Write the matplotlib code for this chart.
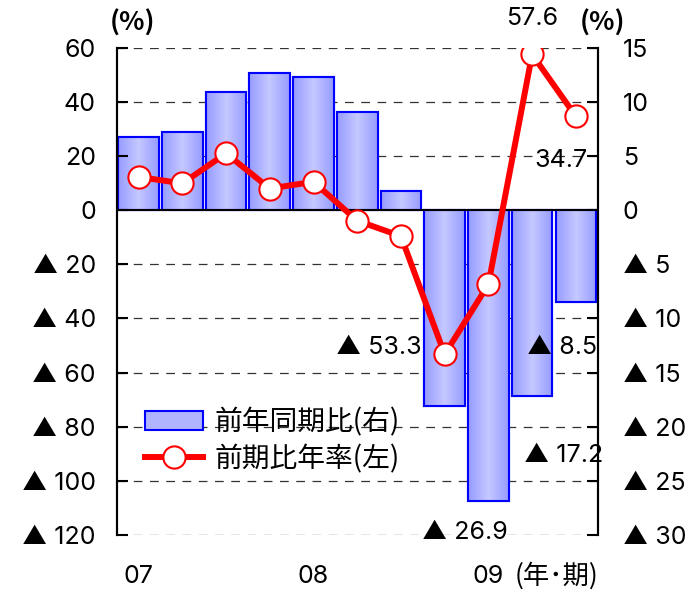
import matplotlib
matplotlib.use("Agg")
import matplotlib.pyplot as plt
import numpy as np
from matplotlib.patches import Rectangle
from matplotlib.lines import Line2D

plt.rcParams['font.family'] = ['Noto Sans CJK JP', 'DejaVu Sans']
NUM = ['Inter', 'DejaVu Sans']

# Data
quarters = ['07Q1', '07Q2', '07Q3', '07Q4', '08Q1', '08Q2', '08Q3', '08Q4', '09Q1', '09Q2', '09Q3']
yoy = [6.8, 7.2, 10.9, 12.7, 12.3, 9.1, 1.8, -18.1, -26.9, -17.2, -8.5]        # 前年同期比 (right axis)
annualized = [12.3, 9.9, 21.0, 8.0, 10.5, -3.9, -9.6, -53.3, -27.4, 57.6, 34.7]  # 前期比年率 (left axis)
xtick_pos = [0, 4, 8]
xtick_labels = ['07', '08', '09']
left_ticks = [60, 40, 20, 0, -20, -40, -60, -80, -100, -120]
left_labels = ['60', '40', '20', '0', '▲ 20', '▲ 40', '▲ 60', '▲ 80', '▲ 100', '▲ 120']
right_ticks = [15, 10, 5, 0, -5, -10, -15, -20, -25, -30]
right_labels = ['15', '10', '5', '0', '▲ 5', '▲ 10', '▲ 15', '▲ 20', '▲ 25', '▲ 30']

fig = plt.figure(figsize=(6.95, 5.91), dpi=100)
ax = fig.add_axes([0.168, 0.095, 0.692, 0.824])
ax2 = ax.twinx()

x = np.arange(len(quarters))
fs = 18

# grid lines (on ax2, behind bars)
for t in right_ticks:
    if t == 0:
        continue
    ax2.axhline(t, color='#333333', lw=0.9, ls=(0, (7, 6)), zorder=0.5)

# bars with gradient
bars = ax2.bar(x, yoy, width=0.93, facecolor='#b0b4ff', edgecolor='#0000ff', lw=1.5, zorder=2,
               label='前年同期比(右)')
grad = np.linspace(0, 1, 64)
prof = 1 - np.abs(grad - 0.5) * 2  # 0 edges, 1 centre
c_edge = np.array([150, 156, 255]) / 255
c_mid = np.array([198, 200, 255]) / 255
img = (c_edge[None, :] * (1 - prof[:, None]) + c_mid[None, :] * prof[:, None])[None, :, :]
for b in bars:
    x0, y0 = b.get_x(), b.get_y()
    w, h = b.get_width(), b.get_height()
    im = ax2.imshow(img, extent=[x0, x0 + w, min(y0, y0 + h), max(y0, y0 + h)],
                    aspect='auto', zorder=2.1, interpolation='bilinear')
    im.set_clip_path(b)
    b2 = Rectangle((x0, y0), w, h, facecolor='none', edgecolor='#0000ff', lw=1.5, zorder=2.2)
    ax2.add_patch(b2)

ax2.axhline(0, color='black', lw=1.5, zorder=3)

# line on left axis
ax.plot(x, annualized, color='#ff0000', lw=4.3, marker='o', markersize=16,
        markerfacecolor='white', markeredgecolor='#ff0000', markeredgewidth=1.5,
        zorder=5, label='前期比年率(左)')

ax.set_zorder(ax2.get_zorder() + 1)
ax.patch.set_visible(False)

ax.set_xlim(-0.5, 10.5)
ax.set_ylim(-120, 60)
ax2.set_ylim(-30, 15)
ax2.set_xlim(-0.5, 10.5)

ax.set_yticks(left_ticks)
ax.set_yticklabels(left_labels, fontsize=fs, family=NUM)
ax2.set_yticks(right_ticks)
ax2.set_yticklabels(right_labels, fontsize=fs, family=NUM)
ax.tick_params(axis='y', direction='in', length=8, width=1.5, pad=15)
ax2.tick_params(axis='y', direction='in', length=8, width=1.5, pad=18)
ax.set_xticks(xtick_pos)
ax.set_xticklabels(xtick_labels, fontsize=fs, family=NUM)
ax.tick_params(axis='x', length=0, pad=22)

for a in (ax, ax2):
    a.spines['top'].set_visible(False)
    a.spines['bottom'].set_visible(False)
    a.spines['left'].set_linewidth(1.5)
    a.spines['right'].set_linewidth(1.5)

# annotations
ax.text(9.0, 71, '57.6', fontsize=fs, family=NUM, ha='center', va='center', clip_on=False)
ax.text(10.28, 18.5, '34.7', fontsize=fs, family=NUM, ha='right', va='center')
ax.text(6.48, -50.7, '▲ 53.3', fontsize=fs, family=NUM, ha='right', va='center')
ax.text(8.45, -119.3, '▲ 26.9', fontsize=fs, family=NUM, ha='right', va='center', clip_on=False)
ax.text(10.48, -50.7, '▲ 8.5', fontsize=fs, family=NUM, ha='right', va='center')
ax.text(10.62, -90.7, '▲ 17.2', fontsize=fs, family=NUM, ha='right', va='center', clip_on=False)
ax.text(-0.13, 69.3, '(%)', fontsize=19, fontweight='bold', ha='center', va='center', clip_on=False)
ax.text(10.6, 69.3, '(%)', fontsize=19, fontweight='bold', ha='center', va='center', clip_on=False)
ax.text(9.55, -135.0, '(年･期)', fontsize=19, ha='center', va='center', clip_on=False)

handles = [bars, Line2D([], [], color='#ff0000', lw=4.3, marker='o', markersize=16,
                        markerfacecolor='white', markeredgecolor='#ff0000', markeredgewidth=1.5)]
ax.legend(handles, ['前年同期比(右)', '前期比年率(左)'], loc='upper left',
          bbox_to_anchor=(0.035, 0.285), frameon=False, fontsize=20,
          handlelength=2.1, handletextpad=0.4, labelspacing=0.25, borderaxespad=0)

fig.savefig('out.png', dpi=100)
